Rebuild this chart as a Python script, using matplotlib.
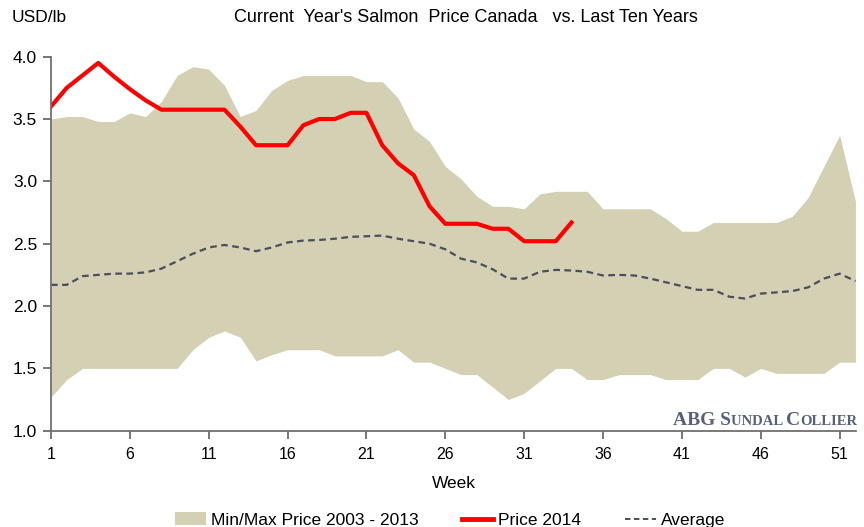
import numpy as np
import matplotlib.pyplot as plt
from matplotlib.patches import Patch
from matplotlib.lines import Line2D

weeks = np.arange(1, 53)

price_max = [3.50, 3.52, 3.52, 3.48, 3.48, 3.55, 3.52, 3.64, 3.85, 3.92,
             3.90, 3.77, 3.52, 3.57, 3.73, 3.81, 3.85, 3.85, 3.85, 3.85,
             3.80, 3.80, 3.67, 3.42, 3.32, 3.12, 3.02, 2.88, 2.80, 2.80,
             2.78, 2.90, 2.92, 2.92, 2.92, 2.78, 2.78, 2.78, 2.78, 2.70,
             2.60, 2.60, 2.67, 2.67, 2.67, 2.67, 2.67, 2.72, 2.87, 3.12,
             3.37, 2.84]

price_min = [1.27, 1.41, 1.50, 1.50, 1.50, 1.50, 1.50, 1.50, 1.50, 1.65,
             1.75, 1.80, 1.75, 1.56, 1.61, 1.65, 1.65, 1.65, 1.60, 1.60,
             1.60, 1.60, 1.65, 1.55, 1.55, 1.50, 1.45, 1.45, 1.35, 1.25,
             1.30, 1.40, 1.50, 1.50, 1.41, 1.41, 1.45, 1.45, 1.45, 1.41,
             1.41, 1.41, 1.50, 1.50, 1.43, 1.50, 1.46, 1.46, 1.46, 1.46,
             1.55, 1.55]

average = [2.17, 2.17, 2.24, 2.25, 2.26, 2.26, 2.27, 2.30, 2.36, 2.42,
           2.47, 2.49, 2.47, 2.44, 2.47, 2.51, 2.525, 2.53, 2.54, 2.555,
           2.56, 2.565, 2.54, 2.52, 2.50, 2.455, 2.38, 2.35, 2.295, 2.22,
           2.22, 2.275, 2.29, 2.285, 2.275, 2.245, 2.25, 2.245, 2.22, 2.19,
           2.16, 2.13, 2.13, 2.075, 2.06, 2.10, 2.11, 2.12, 2.15, 2.22,
           2.26, 2.20]

weeks_2014 = np.arange(1, 35)
price_2014 = [3.60, 3.75, 3.85, 3.95, 3.84, 3.74, 3.65, 3.575, 3.575, 3.575,
              3.575, 3.575, 3.44, 3.29, 3.29, 3.29, 3.45, 3.50, 3.50, 3.55,
              3.55, 3.29, 3.145, 3.05, 2.80, 2.66, 2.66, 2.66, 2.62, 2.62,
              2.52, 2.52, 2.52, 2.67]

xtick_labels = [1, 6, 11, 16, 21, 26, 31, 36, 41, 46, 51]
yticks = [1.0, 1.5, 2.0, 2.5, 3.0, 3.5, 4.0]

band_color = '#d3d0b3'
avg_color = '#4a4e5c'

plt.rcParams['font.family'] = ['Liberation Sans', 'DejaVu Sans']

fig = plt.figure(figsize=(8.64, 5.27), dpi=100)
ax = fig.add_axes([0.059, 0.1827, 0.932, 0.7097])

ax.fill_between(weeks, price_min, price_max, color=band_color, linewidth=0)
ax.plot(weeks, average, color=avg_color, linewidth=1.6, dashes=(3, 2))
ax.plot(weeks_2014, price_2014, color='#ff0000', linewidth=3, solid_joinstyle='round')

ax.set_xlim(1, 52.05)
ax.set_ylim(1.0, 4.0)
ax.set_xticks(xtick_labels)
ax.set_yticks(yticks)
ax.set_yticklabels([f'{v:.1f}' for v in yticks])
ax.tick_params(axis='both', color='#606060', length=6, width=1.2, direction='out')
ax.tick_params(axis='x', labelsize=11.5, pad=6)
ax.tick_params(axis='y', labelsize=12.5, pad=4)

for s in ['top', 'right']:
    ax.spines[s].set_visible(False)
for s in ['left', 'bottom']:
    ax.spines[s].set_color('#707070')
    ax.spines[s].set_linewidth(1.3)

ax.set_xlabel('Week', fontsize=12.5, labelpad=10)

fig.text(12 / 864, 1 - 18 / 527, 'USD/lb', fontsize=12.5, va='center')
fig.text(466 / 864, 1 - 18 / 527, "Current  Year's Salmon  Price Canada   vs. Last Ten Years",
         fontsize=13, ha='center', va='center')

handles = [Patch(facecolor=band_color, edgecolor='none'),
           Line2D([], [], color='#ff0000', linewidth=3.5),
           Line2D([], [], color=avg_color, linewidth=1.4, dashes=(2.8, 1.8))]
labels = ['Min/Max Price 2003 - 2013', 'Price 2014', 'Average']
fig.legend(handles, labels, loc='center left', bbox_to_anchor=(175 / 864, 1 - 520 / 527),
           ncol=3, frameon=False, fontsize=12.5, handlelength=1.8, handletextpad=0.28,
           columnspacing=2.5, borderpad=0, borderaxespad=0)

# watermark with small caps
fig.canvas.draw()
renderer = fig.canvas.get_renderer()
pieces = [('ABG S', 14), ('UNDAL ', 10.5), ('C', 14), ('OLLIER', 10.5)]
x = 673
for txt, size in pieces:
    t = fig.text(x / 864, 1 - 425 / 527, txt, fontsize=size, family=['Liberation Serif'],
                 weight='bold', color='#56617a', va='baseline', ha='left')
    bb = t.get_window_extent(renderer)
    x += bb.width

fig.savefig('out.png', dpi=100)
